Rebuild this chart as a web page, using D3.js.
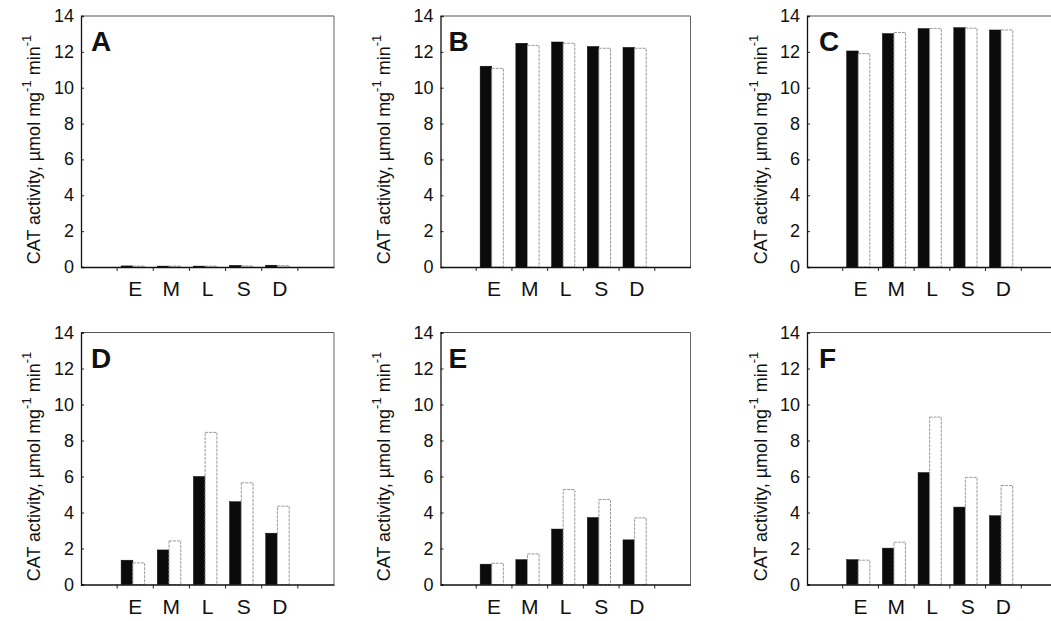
<!DOCTYPE html>
<html><head><meta charset="utf-8">
<script src="https://cdn.jsdelivr.net/npm/d3@7"></script>
<style>body{margin:0;background:#fff}svg{display:block}text{font-family:"Liberation Sans",Arial,sans-serif;fill:#111}</style>
</head><body><svg id="c" width="1051" height="621"></svg>
<script>
const categories = ["E","M","L","S","D"];
const slots = ["pre","E","M","L","S","D","post"];
const series = ["dark","light"];
const yTicks = [0,2,4,6,8,10,12,14];
const panelLetters = ["A","B","C","D","E","F"];

const darkA  = [0.06, 0.05, 0.05, 0.09, 0.10];
const lightA = [0.05, 0.05, 0.05, 0.06, 0.08];
const darkB  = [11.2, 12.48, 12.55, 12.3, 12.25];
const lightB = [11.08, 12.36, 12.48, 12.2, 12.2];
const darkC  = [12.05, 13.02, 13.3, 13.35, 13.22];
const lightC = [11.9, 13.08, 13.3, 13.32, 13.22];
const darkD  = [1.35, 1.92, 6.0, 4.6, 2.85];
const lightD = [1.2, 2.42, 8.45, 5.65, 4.35];
const darkE  = [1.13, 1.38, 3.08, 3.72, 2.48];
const lightE = [1.18, 1.7, 5.28, 4.72, 3.7];
const darkF  = [1.38, 2.02, 6.22, 4.3, 3.82];
const lightF = [1.35, 2.35, 9.3, 5.95, 5.5];

const panelData = [[darkA,lightA],[darkB,lightB],[darkC,lightC],[darkD,lightD],[darkE,lightE],[darkF,lightF]];

// layout
const cols = [{x:81,w:253,lab:33,ldx:10},{x:440.5,w:250,lab:383,ldx:8},{x:807,w:250,lab:760,ldx:12}];
const rows = [{y:16,h:251},{y:332.5,h:252}];

const svg = d3.select("#c");

panelData.forEach((pd,i)=>{
  const c = cols[i%3], r = rows[Math.floor(i/3)];
  const g = svg.append("g");
  const x = d3.scaleBand().domain(slots).range([c.x, c.x+c.w]).padding(0);
  const y = d3.scaleLinear().domain([0,14]).range([r.y+r.h, r.y]);
  const bw = x.bandwidth();
  const inner = d3.scaleBand().domain(series).range([bw*0.11, bw*0.76]).padding(0);

  // bars
  series.forEach((s,si)=>{
    g.selectAll(null).data(categories).enter().append("rect")
      .attr("x", d=>x(d)+inner(s))
      .attr("width", inner.bandwidth())
      .attr("y", (d,k)=>y(pd[si][k]))
      .attr("height", (d,k)=>y(0)-y(pd[si][k]))
      .attr("fill", si===0 ? "#0b0b0b" : "#ffffff")
      .attr("stroke", si===0 ? "#0b0b0b" : "#9a9a9a")
      .attr("stroke-width", si===0 ? 0.5 : 1)
      .attr("stroke-dasharray", si===0 ? null : "3,1");
  });

  // frame top/right
  g.append("line").attr("x1",c.x).attr("x2",c.x+c.w).attr("y1",r.y).attr("y2",r.y).attr("stroke","#555").attr("stroke-width",1.2);
  g.append("line").attr("x1",c.x+c.w).attr("x2",c.x+c.w).attr("y1",r.y).attr("y2",r.y+r.h).attr("stroke","#666").attr("stroke-width",1);

  // y axis
  const ya = d3.axisRight(y).tickValues(yTicks).tickSize(3).tickFormat("");
  const yg = g.append("g").attr("transform",`translate(${c.x},0)`).call(ya);
  yg.select(".domain").attr("stroke","#111").attr("stroke-width",1.3);
  yg.selectAll(".tick line").attr("stroke","#222");
  g.selectAll(null).data(yTicks).enter().append("text")
    .attr("x", c.x-7).attr("y", d=>y(d)).attr("text-anchor","end")
    .attr("dominant-baseline","central").attr("font-size",18).text(d=>d);

  // x axis
  const xa = d3.axisBottom(x).tickSize(0).tickFormat("");
  const xg = g.append("g").attr("transform",`translate(0,${r.y+r.h})`).call(xa);
  xg.select(".domain").attr("stroke","#111").attr("stroke-width",1.3);
  xg.selectAll(".tick").remove();
  g.selectAll(null).data(slots.slice(1)).enter().append("line")
    .attr("x1", d=>x(d)).attr("x2", d=>x(d))
    .attr("y1", r.y+r.h).attr("y2", r.y+r.h+4).attr("stroke","#222").attr("stroke-width",1);
  g.selectAll(null).data(categories).enter().append("text")
    .attr("x", d=>x(d)+bw/2).attr("y", r.y+r.h+29).attr("text-anchor","middle")
    .attr("font-size",21).text(d=>d);

  // panel letter
  g.append("text").attr("x", c.x+c.ldx).attr("y", r.y+35)
    .attr("font-size",28).attr("font-weight","bold").text(panelLetters[i]);

  // y label
  const cy = r.y + r.h/2 + 8;
  const t = g.append("text").attr("transform",`translate(${c.lab+7},${cy}) rotate(-90)`)
    .attr("text-anchor","middle").attr("font-size",18);
  t.append("tspan").text("CAT activity, \u00b5mol mg");
  t.append("tspan").attr("dy",-9).attr("font-size",13).text("-1");
  t.append("tspan").attr("dy",9).text(" min");
  t.append("tspan").attr("dy",-9).attr("font-size",13).text("-1");
});
</script></body></html>
